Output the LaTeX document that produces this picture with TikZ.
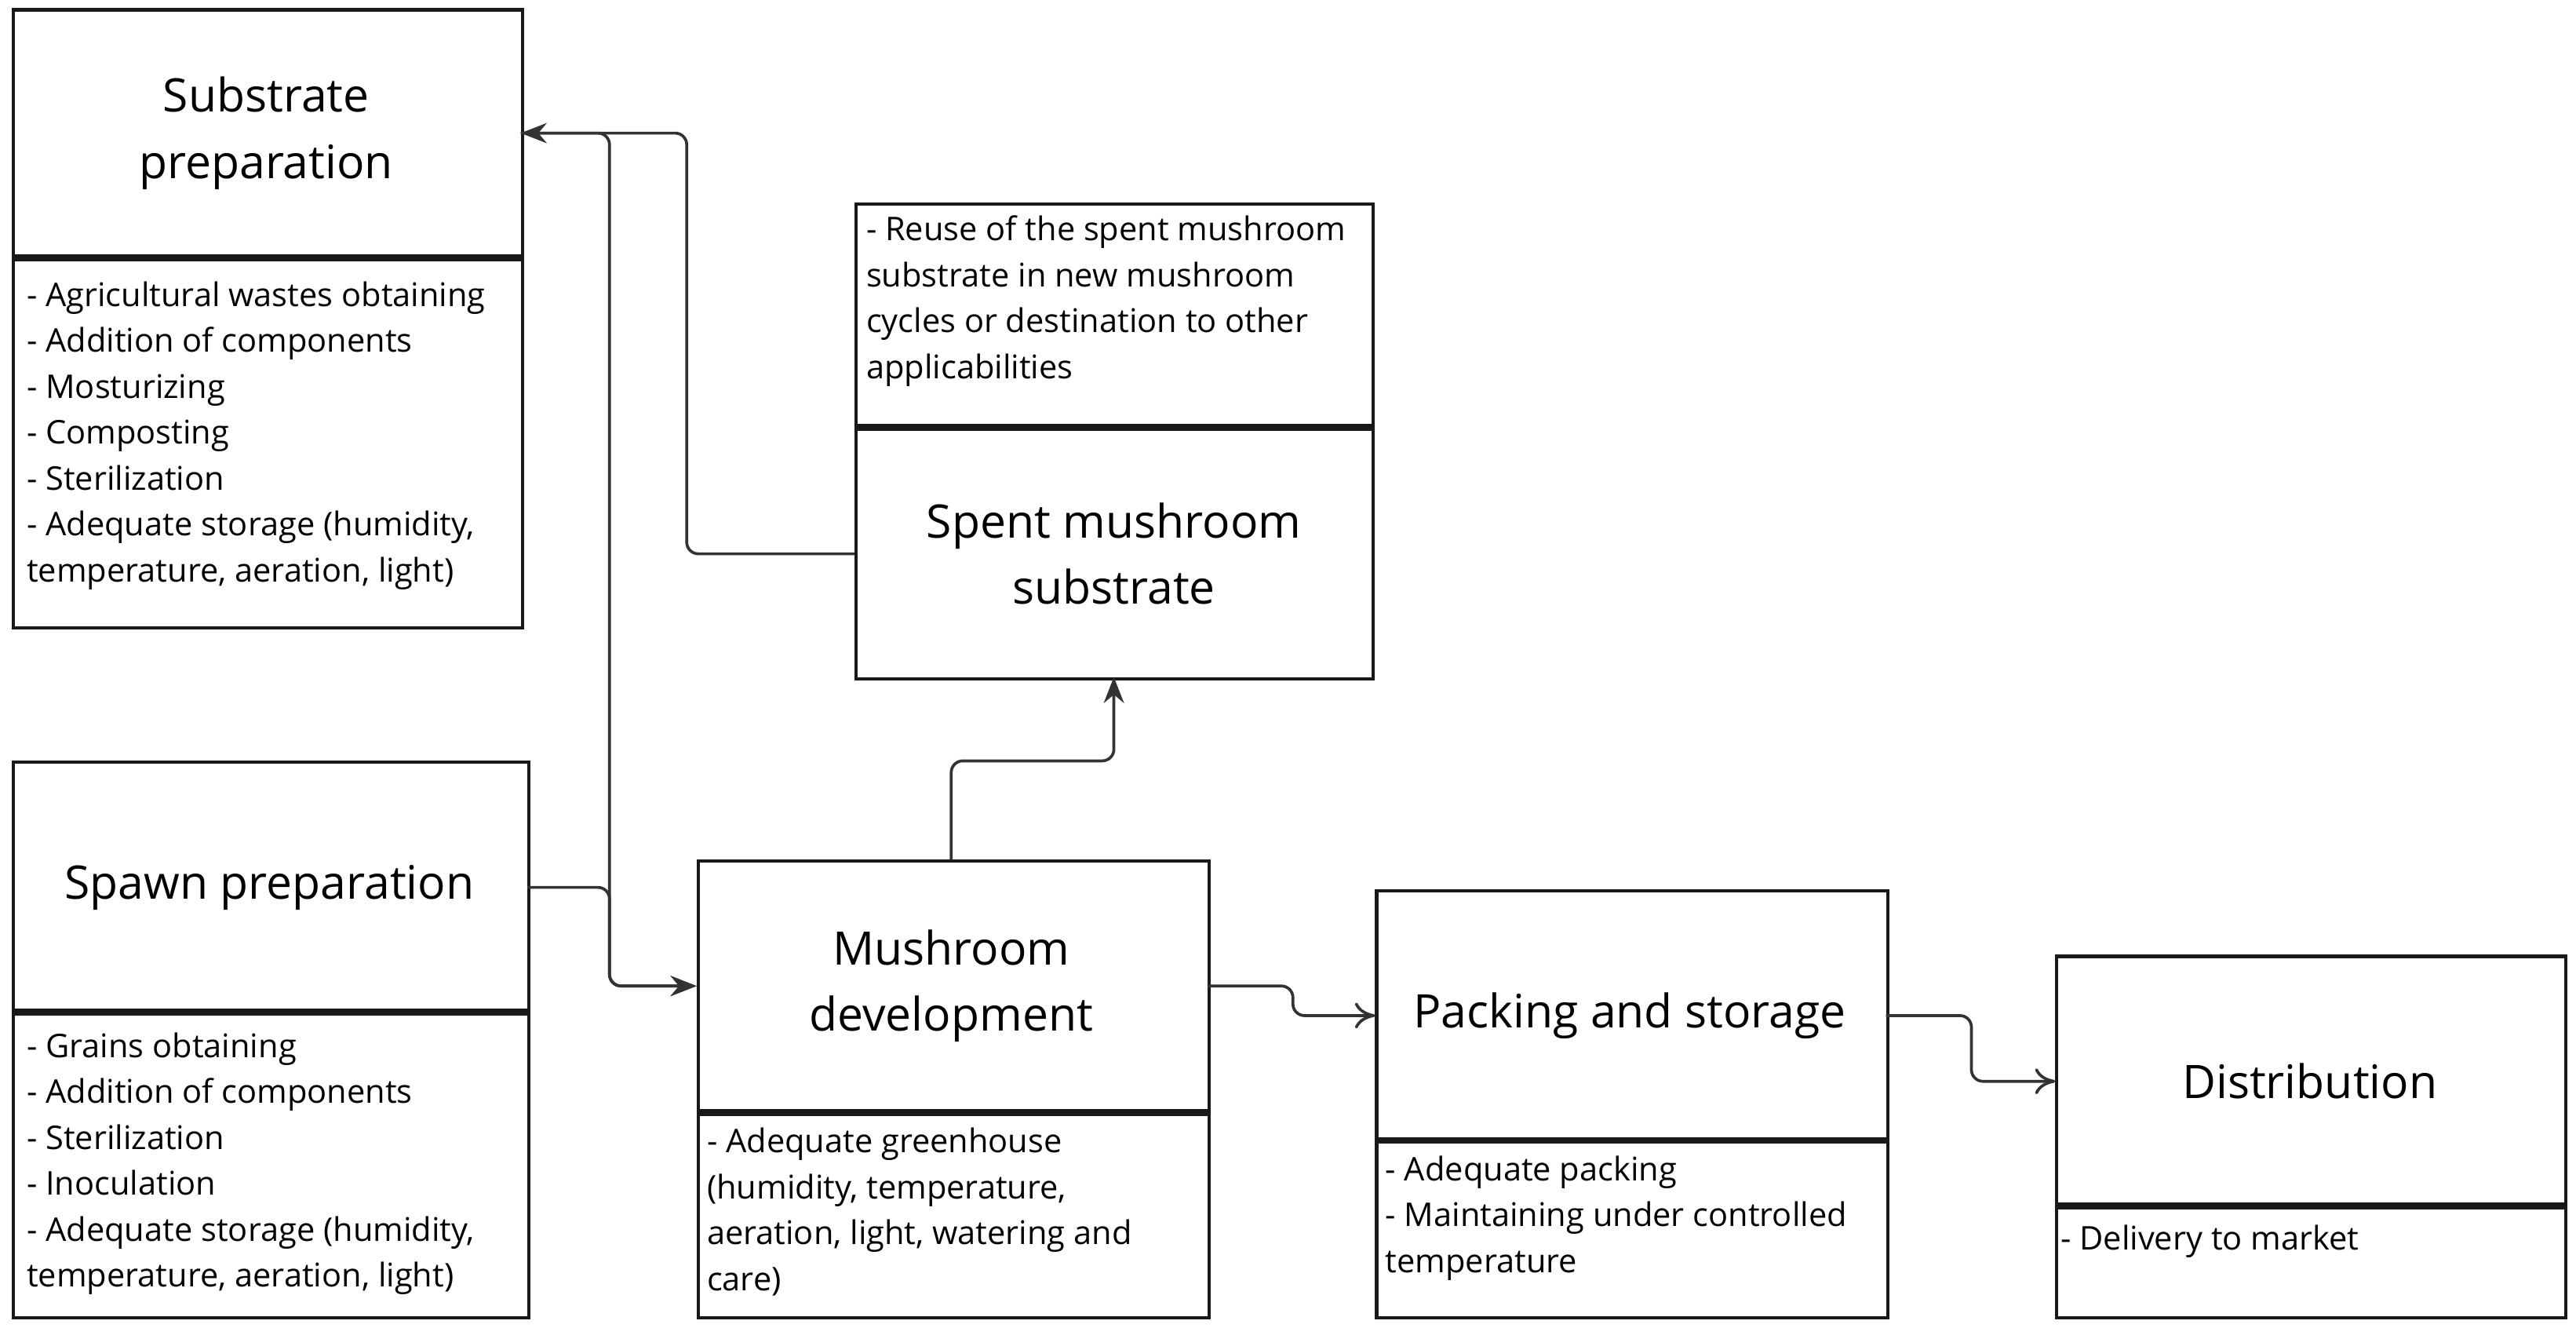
\documentclass[tikz,border=0pt]{standalone}
\usepackage{fontspec}
\setmainfont{Open Sans}
\usetikzlibrary{arrows.meta}
\begin{document}
\begin{tikzpicture}[x=0.02cm,y=-0.02cm,
  box/.style={draw=black!90,line width=1.1pt,anchor=north west,inner sep=0pt},
  ttl/.style={font=\fontsize{16}{23}\selectfont,align=center},
  lst/.style={anchor=north west,inner sep=0pt,align=left,font=\fontsize{11.3}{15.9}\selectfont},
  sep/.style={line width=2.4pt,draw=black!90},
  con/.style={draw=black!80,line width=1pt,rounded corners=4pt},
  ah/.style={-{Stealth[length=9pt,width=7pt]}},
  ao/.style={-{To[length=7pt,width=9pt]}}]
\useasboundingbox (0,0) rectangle (1568,808);
% Substrate
\node[box,minimum width=310*0.02cm,minimum height=152*0.02cm] (subT) at (7,5) {};
\node[ttl] (subTt) at (162,81) {Substrate\\preparation};
\node[box,minimum width=310*0.02cm,minimum height=224*0.02cm] (subL) at (7,157) {};
\node[lst] (subLt) at (16,171) {- Agricultural wastes obtaining\\- Addition of components\\- Mosturizing\\- Composting\\- Sterilization\\- Adequate storage (humidity,\\temperature, aeration, light)};
\draw[sep] (7,157) -- (317,157);
% Spent
\node[box,minimum width=315*0.02cm,minimum height=137*0.02cm] (spL) at (520,123) {};
\node[lst] (spLt) at (527,131) {- Reuse of the spent mushroom\\substrate in new mushroom\\cycles or destination to other\\applicabilities};
\node[box,minimum width=315*0.02cm,minimum height=152*0.02cm] (spT) at (520,260) {};
\node[ttl] (spTt) at (678,337) {Spent mushroom\\substrate};
\draw[sep] (520,260) -- (835,260);
% Spawn
\node[box,minimum width=314*0.02cm,minimum height=153*0.02cm] (spwT) at (7,463) {};
\node[ttl] (spwTt) at (164,540) {Spawn preparation};
\node[box,minimum width=314*0.02cm,minimum height=185*0.02cm] (spwL) at (7,616) {};
\node[lst] (spwLt) at (16,628) {- Grains obtaining\\- Addition of components\\- Sterilization\\- Inoculation\\- Adequate storage (humidity,\\temperature, aeration, light)};
\draw[sep] (7,616) -- (321,616);
% Mushroom dev
\node[box,minimum width=311*0.02cm,minimum height=154*0.02cm] (mdT) at (424,523) {};
\node[ttl] (mdTt) at (579,600) {Mushroom\\development};
\node[box,minimum width=311*0.02cm,minimum height=124*0.02cm] (mdL) at (424,677) {};
\node[lst] (mdLt) at (430,686) {- Adequate greenhouse\\(humidity, temperature,\\aeration, light, watering and\\care)};
\draw[sep] (424,677) -- (735,677);
% Packing
\node[box,minimum width=311*0.02cm,minimum height=153*0.02cm] (pkT) at (837,541) {};
\node[ttl] (pkTt) at (992,618) {Packing and storage};
\node[box,minimum width=311*0.02cm,minimum height=107*0.02cm] (pkL) at (837,694) {};
\node[lst] (pkLt) at (843,703) {- Adequate packing\\- Maintaining under controlled\\temperature};
\draw[sep] (837,694) -- (1148,694);
% Distribution
\node[box,minimum width=310*0.02cm,minimum height=153*0.02cm] (dT) at (1251,581) {};
\node[ttl] (dTt) at (1406,658) {Distribution};
\node[box,minimum width=310*0.02cm,minimum height=67*0.02cm] (dL) at (1251,734) {};
\node[lst] (dLt) at (1254,745) {- Delivery to market};
\draw[sep] (1251,734) -- (1561,734);
% connectors
\coordinate (a1) at (317,81);
\coordinate (a2) at (520,337);
\coordinate (m1) at (424,600);
\draw[con,ah] (a2) -- (418,337) -- (418,81) -- (a1);
\draw[con,ah] (a1) -- (371,81) -- (371,600) -- (m1);
\draw[con,ah] (321,540) -- (371,540) -- (371,600) -- (m1);
\draw[con,ah] (579,523) -- (579,463) -- (678,463) -- (678,412);
\draw[con,ao] (735,600) -- (787,600) -- (787,618) -- (837,618);
\draw[con,ao] (1148,618) -- (1200,618) -- (1200,658) -- (1251,658);
\end{tikzpicture}
\end{document}
